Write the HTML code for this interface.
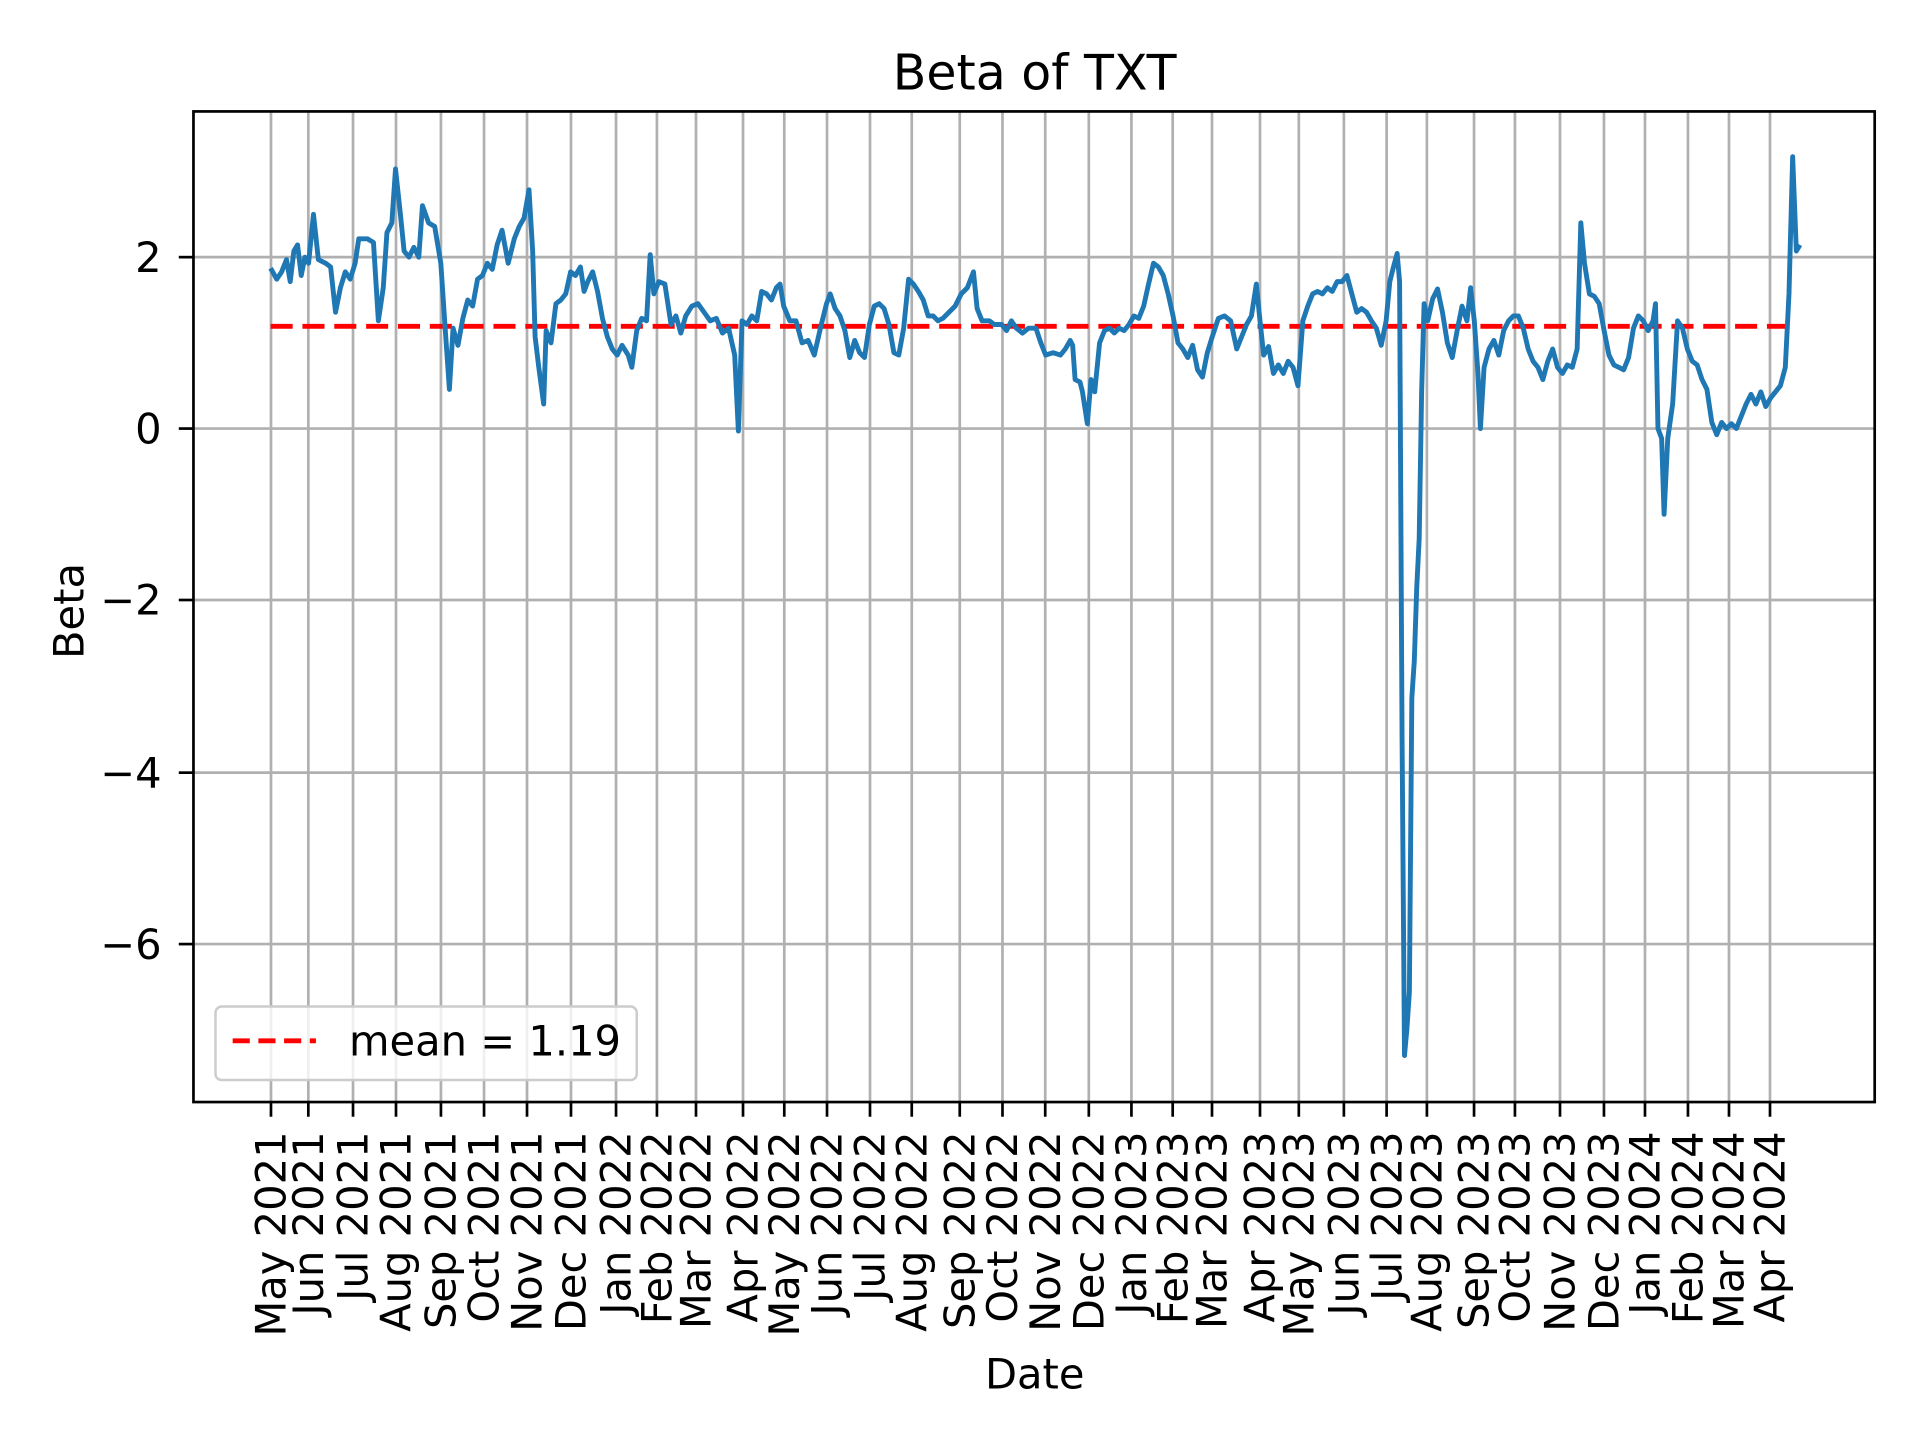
<!DOCTYPE html>
<html><head><meta charset="utf-8"><style>
html,body{margin:0;padding:0;background:#fff;}
svg{display:block;}
text{font-family:"DejaVu Sans","Liberation Sans",sans-serif;fill:#000;}
</style></head><body>
<svg width="1920" height="1440" viewBox="0 0 1568 1176" preserveAspectRatio="none" xmlns="http://www.w3.org/2000/svg">
<rect width="1568" height="1176" fill="#fff"/>
<g stroke="#b0b0b0" stroke-width="2.2">
<line x1="158" x2="1531" y1="210" y2="210"/>
<line x1="158" x2="1531" y1="350" y2="350"/>
<line x1="158" x2="1531" y1="490" y2="490"/>
<line x1="158" x2="1531" y1="631" y2="631"/>
<line x1="158" x2="1531" y1="771" y2="771"/>
</g>
<g stroke="#b0b0b0" stroke-width="2.2">
<line x1="221.3" x2="221.3" y1="91" y2="900"/><line x1="251.8" x2="251.8" y1="91" y2="900"/><line x1="288.3" x2="288.3" y1="91" y2="900"/><line x1="323.4" x2="323.4" y1="91" y2="900"/><line x1="360.1" x2="360.1" y1="91" y2="900"/><line x1="395.3" x2="395.3" y1="91" y2="900"/><line x1="430.4" x2="430.4" y1="91" y2="900"/><line x1="466.3" x2="466.3" y1="91" y2="900"/><line x1="503.1" x2="503.1" y1="91" y2="900"/><line x1="536.5" x2="536.5" y1="91" y2="900"/><line x1="568.4" x2="568.4" y1="91" y2="900"/><line x1="606.8" x2="606.8" y1="91" y2="900"/><line x1="640.5" x2="640.5" y1="91" y2="900"/><line x1="675.4" x2="675.4" y1="91" y2="900"/><line x1="710.5" x2="710.5" y1="91" y2="900"/><line x1="744.6" x2="744.6" y1="91" y2="900"/><line x1="783.8" x2="783.8" y1="91" y2="900"/><line x1="818.7" x2="818.7" y1="91" y2="900"/><line x1="853.6" x2="853.6" y1="91" y2="900"/><line x1="889.2" x2="889.2" y1="91" y2="900"/><line x1="924" x2="924" y1="91" y2="900"/><line x1="957.7" x2="957.7" y1="91" y2="900"/><line x1="989.8" x2="989.8" y1="91" y2="900"/><line x1="1029" x2="1029" y1="91" y2="900"/><line x1="1060.7" x2="1060.7" y1="91" y2="900"/><line x1="1097.5" x2="1097.5" y1="91" y2="900"/><line x1="1132.4" x2="1132.4" y1="91" y2="900"/><line x1="1165.3" x2="1165.3" y1="91" y2="900"/><line x1="1203.8" x2="1203.8" y1="91" y2="900"/><line x1="1237.2" x2="1237.2" y1="91" y2="900"/><line x1="1274" x2="1274" y1="91" y2="900"/><line x1="1309.9" x2="1309.9" y1="91" y2="900"/><line x1="1343.4" x2="1343.4" y1="91" y2="900"/><line x1="1378.5" x2="1378.5" y1="91" y2="900"/><line x1="1412" x2="1412" y1="91" y2="900"/><line x1="1445.5" x2="1445.5" y1="91" y2="900"/>
</g>
<line x1="221" x2="1468" y1="266.5" y2="266.5" stroke="#ff0000" stroke-width="4" stroke-dasharray="18 8"/>
<polyline fill="none" stroke="#1f77b4" stroke-width="4" stroke-linejoin="round" points="221,219 226,228 230,222 234,212 237,230 240,205 243,200 246,225 249,210 252,215 256,175 260,212 266,215 270,218 274,255 278,235 282,222 286,228 290,215 293,195 300,195 305,198 309,262 313,235 316,190 320,182 323,138 327,175 330,205 334,210 338,202 342,210 345,168 350,182 355,185 360,215 363,260 367,318 370,268 374,282 378,260 382,245 386,250 390,228 394,225 398,215 402,220 406,200 410,188 415,215 420,195 424,185 428,178 432,155 435,205 437,275 440,300 444,330 446,270 450,280 454,248 458,245 462,240 466,222 470,225 474,218 477,238 480,230 484,222 488,238 492,260 496,275 500,285 504,290 508,282 513,290 516,300 520,270 524,260 528,262 531,208 534,240 538,230 543,232 548,265 552,258 556,272 560,258 565,250 570,248 575,255 580,262 585,260 590,272 595,268 600,290 603,352 606,262 610,265 614,258 618,262 622,238 626,240 630,245 634,235 637,232 640,250 645,262 650,262 655,280 660,278 665,290 670,268 675,248 678,240 682,252 686,258 690,270 694,292 698,278 702,288 706,292 710,265 714,250 718,248 722,252 726,265 730,288 734,290 738,268 742,228 746,232 750,238 754,245 758,258 762,258 766,262 770,260 775,255 780,250 785,240 790,235 795,222 798,252 802,262 808,262 812,265 818,265 822,270 826,262 830,268 835,272 840,268 846,268 850,280 854,290 860,288 866,290 870,285 874,278 876,282 878,310 882,312 884,320 888,346 891,310 894,320 898,280 902,270 906,268 910,272 914,268 918,270 922,265 926,258 930,260 934,250 938,232 942,215 946,218 950,225 954,240 958,258 962,280 966,285 970,292 974,282 978,302 982,308 986,288 990,275 995,260 1000,258 1005,262 1010,285 1014,275 1018,265 1022,258 1026,232 1029,262 1032,290 1036,283 1040,305 1044,298 1048,305 1052,295 1056,300 1060,315 1064,262 1068,250 1072,240 1076,238 1080,240 1084,235 1088,238 1092,230 1096,230 1100,225 1104,240 1108,255 1112,252 1116,255 1120,262 1124,268 1128,282 1132,262 1135,230 1138,218 1141,207 1143,230 1145,600 1147,862 1149,840 1151,810 1153,570 1155,540 1157,480 1159,440 1161,320 1163,248 1166,262 1170,244 1174,236 1178,255 1182,280 1186,292 1190,270 1194,250 1198,262 1201,235 1204,262 1207,305 1209,350 1212,300 1216,285 1220,278 1224,290 1228,270 1232,262 1236,258 1240,258 1244,268 1248,285 1252,295 1256,300 1260,310 1264,295 1268,285 1272,300 1276,305 1280,298 1284,300 1288,285 1291,182 1294,215 1298,240 1302,242 1306,248 1310,270 1314,290 1318,298 1322,300 1326,302 1330,292 1334,268 1338,258 1342,262 1346,270 1350,262 1352,248 1354,350 1357,358 1359,420 1362,358 1366,330 1370,262 1374,268 1378,285 1382,295 1386,298 1390,310 1394,318 1398,345 1402,355 1406,345 1410,350 1414,346 1418,350 1422,340 1426,330 1430,322 1434,330 1438,320 1442,332 1446,325 1450,320 1454,315 1458,300 1461,240 1464,128 1467,205 1470,200"/>
<rect x="158" y="91" width="1373" height="809" fill="none" stroke="#000" stroke-width="2.2"/>
<g stroke="#000" stroke-width="2.2">
<line x1="146" x2="158" y1="210" y2="210"/><line x1="146" x2="158" y1="350" y2="350"/><line x1="146" x2="158" y1="490" y2="490"/><line x1="146" x2="158" y1="631" y2="631"/><line x1="146" x2="158" y1="771" y2="771"/>
</g>
<g font-size="34" text-anchor="end">
<text x="132" y="222">2</text><text x="132" y="362">0</text><text x="132" y="502">−2</text><text x="132" y="643">−4</text><text x="132" y="783">−6</text>
</g>
<text x="845" y="73" font-size="40" text-anchor="middle">Beta of TXT</text>
<text x="845" y="1134" font-size="34" text-anchor="middle">Date</text>
<text transform="translate(68,499) rotate(-90)" font-size="34" text-anchor="middle">Beta</text>
<rect x="176" y="822" width="344" height="60" rx="5" fill="#fff" fill-opacity="0.8" stroke="#cccccc" stroke-width="2"/>
<line x1="190" x2="258" y1="850" y2="850" stroke="#ff0000" stroke-width="4" stroke-dasharray="14 7"/>
<text x="285" y="862" font-size="34">mean = 1.19</text>
<g font-size="34" text-anchor="end">
<text transform="translate(233.3,924) rotate(-90)">May 2021</text>
<text transform="translate(263.8,924) rotate(-90)">Jun 2021</text>
<text transform="translate(300.3,924) rotate(-90)">Jul 2021</text>
<text transform="translate(335.4,924) rotate(-90)">Aug 2021</text>
<text transform="translate(372.1,924) rotate(-90)">Sep 2021</text>
<text transform="translate(407.3,924) rotate(-90)">Oct 2021</text>
<text transform="translate(442.4,924) rotate(-90)">Nov 2021</text>
<text transform="translate(478.3,924) rotate(-90)">Dec 2021</text>
<text transform="translate(515.1,924) rotate(-90)">Jan 2022</text>
<text transform="translate(548.5,924) rotate(-90)">Feb 2022</text>
<text transform="translate(580.4,924) rotate(-90)">Mar 2022</text>
<text transform="translate(618.8,924) rotate(-90)">Apr 2022</text>
<text transform="translate(652.5,924) rotate(-90)">May 2022</text>
<text transform="translate(687.4,924) rotate(-90)">Jun 2022</text>
<text transform="translate(722.5,924) rotate(-90)">Jul 2022</text>
<text transform="translate(756.6,924) rotate(-90)">Aug 2022</text>
<text transform="translate(795.8,924) rotate(-90)">Sep 2022</text>
<text transform="translate(830.7,924) rotate(-90)">Oct 2022</text>
<text transform="translate(865.6,924) rotate(-90)">Nov 2022</text>
<text transform="translate(901.2,924) rotate(-90)">Dec 2022</text>
<text transform="translate(936,924) rotate(-90)">Jan 2023</text>
<text transform="translate(969.7,924) rotate(-90)">Feb 2023</text>
<text transform="translate(1001.8,924) rotate(-90)">Mar 2023</text>
<text transform="translate(1041,924) rotate(-90)">Apr 2023</text>
<text transform="translate(1072.7,924) rotate(-90)">May 2023</text>
<text transform="translate(1109.5,924) rotate(-90)">Jun 2023</text>
<text transform="translate(1144.4,924) rotate(-90)">Jul 2023</text>
<text transform="translate(1177.3,924) rotate(-90)">Aug 2023</text>
<text transform="translate(1215.8,924) rotate(-90)">Sep 2023</text>
<text transform="translate(1249.2,924) rotate(-90)">Oct 2023</text>
<text transform="translate(1286,924) rotate(-90)">Nov 2023</text>
<text transform="translate(1321.9,924) rotate(-90)">Dec 2023</text>
<text transform="translate(1355.4,924) rotate(-90)">Jan 2024</text>
<text transform="translate(1390.5,924) rotate(-90)">Feb 2024</text>
<text transform="translate(1424,924) rotate(-90)">Mar 2024</text>
<text transform="translate(1457.5,924) rotate(-90)">Apr 2024</text>
</g>
<g stroke="#000" stroke-width="2.2">
<line x1="221.3" x2="221.3" y1="900" y2="912"/><line x1="251.8" x2="251.8" y1="900" y2="912"/><line x1="288.3" x2="288.3" y1="900" y2="912"/><line x1="323.4" x2="323.4" y1="900" y2="912"/><line x1="360.1" x2="360.1" y1="900" y2="912"/><line x1="395.3" x2="395.3" y1="900" y2="912"/><line x1="430.4" x2="430.4" y1="900" y2="912"/><line x1="466.3" x2="466.3" y1="900" y2="912"/><line x1="503.1" x2="503.1" y1="900" y2="912"/><line x1="536.5" x2="536.5" y1="900" y2="912"/><line x1="568.4" x2="568.4" y1="900" y2="912"/><line x1="606.8" x2="606.8" y1="900" y2="912"/><line x1="640.5" x2="640.5" y1="900" y2="912"/><line x1="675.4" x2="675.4" y1="900" y2="912"/><line x1="710.5" x2="710.5" y1="900" y2="912"/><line x1="744.6" x2="744.6" y1="900" y2="912"/><line x1="783.8" x2="783.8" y1="900" y2="912"/><line x1="818.7" x2="818.7" y1="900" y2="912"/><line x1="853.6" x2="853.6" y1="900" y2="912"/><line x1="889.2" x2="889.2" y1="900" y2="912"/><line x1="924" x2="924" y1="900" y2="912"/><line x1="957.7" x2="957.7" y1="900" y2="912"/><line x1="989.8" x2="989.8" y1="900" y2="912"/><line x1="1029" x2="1029" y1="900" y2="912"/><line x1="1060.7" x2="1060.7" y1="900" y2="912"/><line x1="1097.5" x2="1097.5" y1="900" y2="912"/><line x1="1132.4" x2="1132.4" y1="900" y2="912"/><line x1="1165.3" x2="1165.3" y1="900" y2="912"/><line x1="1203.8" x2="1203.8" y1="900" y2="912"/><line x1="1237.2" x2="1237.2" y1="900" y2="912"/><line x1="1274" x2="1274" y1="900" y2="912"/><line x1="1309.9" x2="1309.9" y1="900" y2="912"/><line x1="1343.4" x2="1343.4" y1="900" y2="912"/><line x1="1378.5" x2="1378.5" y1="900" y2="912"/><line x1="1412" x2="1412" y1="900" y2="912"/><line x1="1445.5" x2="1445.5" y1="900" y2="912"/>
</g>
</svg>
</body></html>
